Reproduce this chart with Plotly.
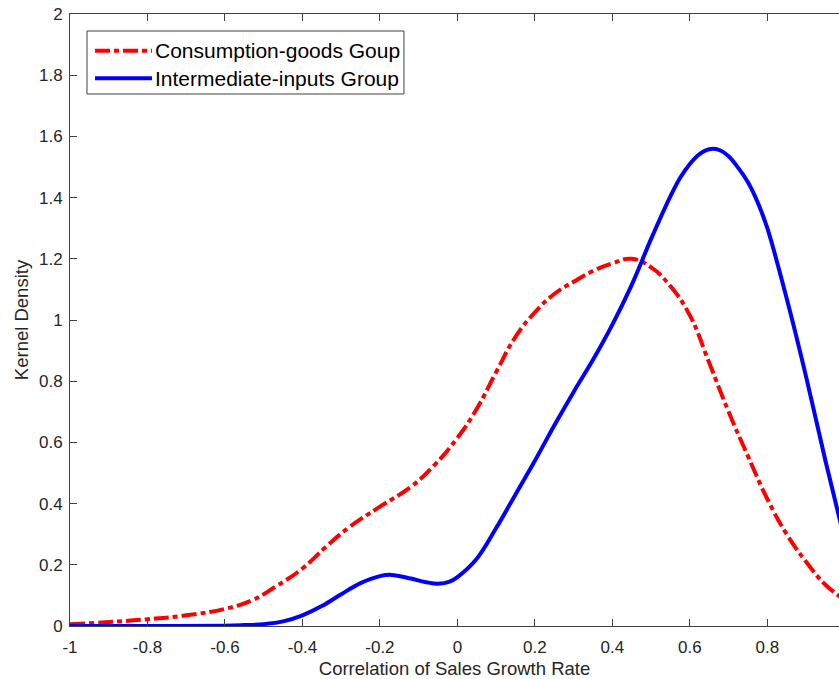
import plotly.graph_objects as go

# Kernel density estimates of the correlation of sales growth rate
consumption_x = [-1.0, -0.9, -0.8, -0.7, -0.6, -0.53, -0.47, -0.4, -0.34, -0.28,
                 -0.2, -0.12, -0.06, 0.0, 0.05, 0.1, 0.15, 0.2, 0.25, 0.3,
                 0.35, 0.4, 0.45, 0.5, 0.55, 0.6, 0.65, 0.7, 0.75, 0.8,
                 0.85, 0.9, 0.95, 1.0]
consumption_y = [0.006, 0.013, 0.022, 0.035, 0.056, 0.084, 0.128, 0.188, 0.258, 0.322,
                 0.39, 0.455, 0.525, 0.615, 0.71, 0.83, 0.945, 1.025, 1.085, 1.125,
                 1.16, 1.185, 1.2, 1.172, 1.11, 1.015, 0.86, 0.70, 0.555, 0.415,
                 0.30, 0.21, 0.135, 0.085]

intermediate_x = [-1.0, -0.8, -0.6, -0.55, -0.5, -0.45, -0.4, -0.35, -0.3, -0.25,
                  -0.2, -0.17, -0.12, -0.08, -0.05, -0.02, 0.0, 0.05, 0.1, 0.15,
                  0.2, 0.25, 0.3, 0.35, 0.4, 0.45, 0.5, 0.55, 0.575, 0.6,
                  0.625, 0.65, 0.675, 0.7, 0.725, 0.75, 0.775, 0.8, 0.85, 0.9,
                  0.95, 1.0]
intermediate_y = [0.0, 0.0, 0.001, 0.003, 0.006, 0.015, 0.035, 0.065, 0.104, 0.14,
                  0.163, 0.167, 0.155, 0.143, 0.138, 0.145, 0.16, 0.22, 0.32, 0.43,
                  0.54, 0.655, 0.765, 0.87, 0.985, 1.115, 1.265, 1.405, 1.465, 1.51,
                  1.542, 1.558, 1.556, 1.535, 1.497, 1.45, 1.385, 1.30, 1.07, 0.815,
                  0.54, 0.28]

series_names = ["Consumption-goods Goup", "Intermediate-inputs Group"]
series_colors = ["#ff0000", "#0000ff"]

x_ticks = [-1, -0.8, -0.6, -0.4, -0.2, 0, 0.2, 0.4, 0.6, 0.8, 1]
x_tick_labels = ["-1", "-0.8", "-0.6", "-0.4", "-0.2", "0", "0.2", "0.4", "0.6", "0.8", "1"]
y_ticks = [0, 0.2, 0.4, 0.6, 0.8, 1, 1.2, 1.4, 1.6, 1.8, 2]
y_tick_labels = ["0", "0.2", "0.4", "0.6", "0.8", "1", "1.2", "1.4", "1.6", "1.8", "2"]

FONT = "Arial, 'Liberation Sans', Helvetica, sans-serif"
AXIS_COLOR = "#404040"
TEXT_COLOR = "#262626"
RED_DASH = "15px,4px,5px,4px"

fig = go.Figure()
fig.add_trace(go.Scatter(
    x=consumption_x, y=consumption_y, mode="lines", name=series_names[0],
    line=dict(color=series_colors[0], width=4, dash=RED_DASH, shape="spline", smoothing=1.3),
    showlegend=False, hoverinfo="skip"))
fig.add_trace(go.Scatter(
    x=intermediate_x, y=intermediate_y, mode="lines", name=series_names[1],
    line=dict(color=series_colors[1], width=4, shape="spline", smoothing=1.0),
    showlegend=False, hoverinfo="skip"))

axis_common = dict(
    showgrid=False, zeroline=False, showline=True, linecolor=AXIS_COLOR, linewidth=1,
    ticks="inside", ticklen=7, tickwidth=1, tickcolor=AXIS_COLOR,
    tickfont=dict(family=FONT, size=17, color=TEXT_COLOR),
)

fig.update_layout(
    width=839, height=679, autosize=False,
    margin=dict(l=70, r=0, t=14, b=53, pad=0),
    paper_bgcolor="white", plot_bgcolor="white",
    font=dict(family=FONT, color=TEXT_COLOR),
    xaxis=dict(
        range=[-1, 0.985], tickmode="array", tickvals=x_ticks, ticktext=x_tick_labels,
        mirror="ticks", ticklabelstandoff=6,
        title=dict(text="Correlation of Sales Growth Rate",
                   font=dict(family=FONT, size=18.5, color=TEXT_COLOR), standoff=6),
        **axis_common),
    yaxis=dict(
        range=[0, 2], tickmode="array", tickvals=y_ticks, ticktext=y_tick_labels,
        ticklabelstandoff=3,
        title=dict(text="Kernel Density",
                   font=dict(family=FONT, size=18.5, color=TEXT_COLOR), standoff=5),
        **axis_common),
    yaxis2=dict(
        overlaying="y", side="right", matches="y", range=[0, 2],
        tickmode="array", tickvals=y_ticks, showticklabels=False,
        showgrid=False, zeroline=False, showline=False,
        ticks="inside", ticklen=2, tickwidth=1, tickcolor=AXIS_COLOR),
    showlegend=False,
)

# Legend box drawn in plot-area coordinates
legend_box = dict(x0=0.0221, x1=0.4343, y0=0.8693, y1=0.9722)
legend_rows_y = [0.9400, 0.8949]
sample_x = [0.0325, 0.1066]
text_x = 0.1085

fig.add_shape(type="rect", xref="paper", yref="paper",
              x0=legend_box["x0"], x1=legend_box["x1"],
              y0=legend_box["y0"], y1=legend_box["y1"],
              line=dict(color=AXIS_COLOR, width=1), fillcolor="white", layer="above")
for i, name in enumerate(series_names):
    fig.add_shape(type="line", xref="paper", yref="paper",
                  x0=sample_x[0], x1=sample_x[1], y0=legend_rows_y[i], y1=legend_rows_y[i],
                  line=dict(color=series_colors[i], width=4,
                            dash=RED_DASH if i == 0 else "solid"),
                  layer="above")
    fig.add_annotation(xref="paper", yref="paper", x=text_x, y=legend_rows_y[i],
                       xanchor="left", yanchor="middle", showarrow=False,
                       text=name, font=dict(family=FONT, size=21, color="#000000"))

fig.write_html("out.html")
